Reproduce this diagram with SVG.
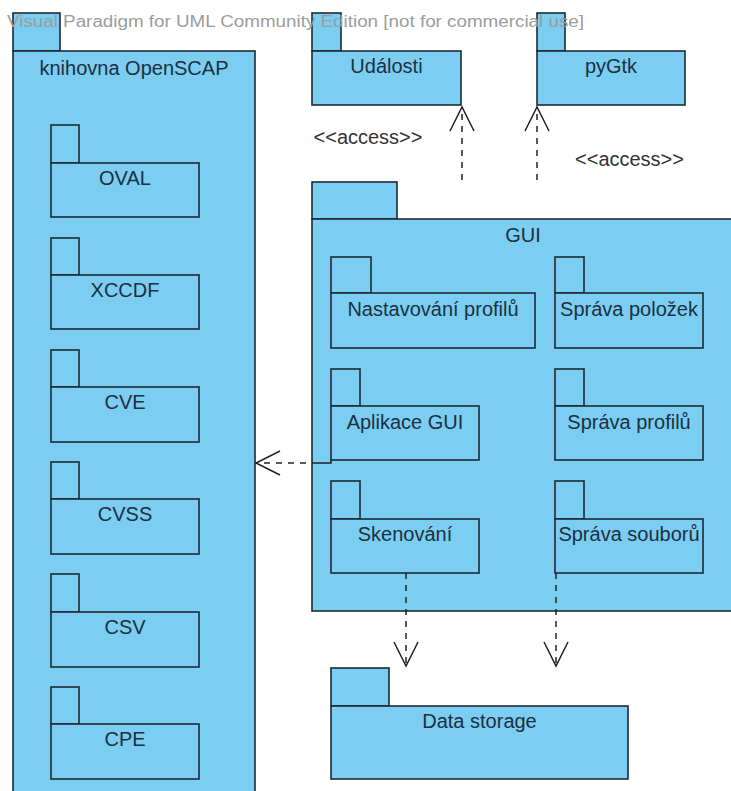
<svg xmlns="http://www.w3.org/2000/svg" width="731" height="791" viewBox="0 0 731 791">
<defs>
<style>
.pk{fill:#7bcdf1;stroke:#1d2a33;stroke-width:1.6}
.lb{font-family:"Liberation Sans",Arial,sans-serif;font-size:20px;fill:#1c3040;text-anchor:middle}
.st{font-family:"Liberation Sans",Arial,sans-serif;font-size:20px;fill:#333;text-anchor:middle}
.wm{font-family:"Liberation Sans",Arial,sans-serif;font-size:16px;fill:#9c9c9c}
.cn{fill:none;stroke:#222;stroke-width:1.5;stroke-dasharray:6,6}
.ah{fill:none;stroke:#222;stroke-width:1.5}
</style>
<marker id="open" viewBox="-27 -14 30 28" refX="0" refY="0" markerWidth="30" markerHeight="28" markerUnits="userSpaceOnUse" orient="auto">
<path d="M-24,-12 L0,0 L-24,12" fill="none" stroke="#222" stroke-width="1.5"/>
</marker>
</defs>
<rect width="731" height="791" fill="#fff"/>

<g id="openscap">
<rect class="pk" x="13" y="13" width="47" height="38"/>
<rect class="pk" x="13" y="51" width="242" height="750"/>
<text class="lb" x="134" y="75">knihovna OpenSCAP</text>
</g>
<g id="oval">
<rect class="pk" x="51" y="125" width="28" height="38"/>
<rect class="pk" x="51" y="163" width="148" height="54"/>
<text class="lb" x="125" y="185">OVAL</text>
</g>
<g id="xccdf">
<rect class="pk" x="51" y="238" width="28" height="37"/>
<rect class="pk" x="51" y="275" width="148" height="54"/>
<text class="lb" x="125" y="297">XCCDF</text>
</g>
<g id="cve">
<rect class="pk" x="51" y="350" width="28" height="37"/>
<rect class="pk" x="51" y="387" width="148" height="55"/>
<text class="lb" x="125" y="409">CVE</text>
</g>
<g id="cvss">
<rect class="pk" x="51" y="462" width="28" height="37"/>
<rect class="pk" x="51" y="499" width="148" height="55"/>
<text class="lb" x="125" y="521">CVSS</text>
</g>
<g id="csv">
<rect class="pk" x="51" y="574" width="28" height="38"/>
<rect class="pk" x="51" y="612" width="148" height="55"/>
<text class="lb" x="125" y="634">CSV</text>
</g>
<g id="cpe">
<rect class="pk" x="51" y="687" width="28" height="37"/>
<rect class="pk" x="51" y="724" width="148" height="55"/>
<text class="lb" x="125" y="746">CPE</text>
</g>

<g id="udalosti">
<rect class="pk" x="312" y="13" width="29" height="38"/>
<rect class="pk" x="312" y="51" width="149" height="54"/>
<text class="lb" x="386.5" y="73">Události</text>
</g>
<g id="pygtk">
<rect class="pk" x="537" y="13" width="28" height="38"/>
<rect class="pk" x="537" y="51" width="148" height="54"/>
<text class="lb" x="611" y="73">pyGtk</text>
</g>

<g id="gui">
<rect class="pk" x="312" y="182" width="85" height="37"/>
<rect class="pk" x="312" y="219" width="422" height="392"/>
<text class="lb" x="523" y="242">GUI</text>
</g>
<g id="nastavovani">
<rect class="pk" x="331" y="257" width="40" height="36"/>
<rect class="pk" x="331" y="293" width="204" height="55"/>
<text class="lb" x="433" y="316">Nastavování profilů</text>
</g>
<g id="sprava-polozek">
<rect class="pk" x="555" y="257" width="29" height="36"/>
<rect class="pk" x="555" y="293" width="148" height="55"/>
<text class="lb" x="629" y="316">Správa položek</text>
</g>
<g id="aplikace-gui">
<rect class="pk" x="331" y="369" width="29" height="37"/>
<rect class="pk" x="331" y="406" width="148" height="54"/>
<text class="lb" x="405" y="429">Aplikace GUI</text>
</g>
<g id="sprava-profilu">
<rect class="pk" x="555" y="369" width="29" height="37"/>
<rect class="pk" x="555" y="406" width="148" height="54"/>
<text class="lb" x="629" y="429">Správa profilů</text>
</g>
<g id="skenovani">
<rect class="pk" x="331" y="481" width="29" height="38"/>
<rect class="pk" x="331" y="519" width="148" height="54"/>
<text class="lb" x="405" y="541">Skenování</text>
</g>
<g id="sprava-souboru">
<rect class="pk" x="555" y="481" width="29" height="38"/>
<rect class="pk" x="555" y="519" width="148" height="54"/>
<text class="lb" x="629" y="541">Správa souborů</text>
</g>
<g id="data-storage">
<rect class="pk" x="331" y="668" width="58" height="38"/>
<rect class="pk" x="331" y="706" width="297" height="73"/>
<text class="lb" x="479.5" y="728">Data storage</text>
</g>

<g id="connectors">
<path class="cn" d="M462,180 L462,107" marker-end="url(#open)"/>
<path class="cn" d="M537,180 L537,107" marker-end="url(#open)"/>
<path class="cn" d="M406,573 L406,666" marker-end="url(#open)"/>
<path class="cn" d="M556,573 L556,666" marker-end="url(#open)"/>
<path class="ah" d="M331,460 L331,463 L318,463"/>
<path class="cn" d="M318,463 L256,463" marker-end="url(#open)"/>
<text class="st" x="368" y="144">&lt;&lt;access&gt;&gt;</text>
<text class="st" x="629.5" y="166">&lt;&lt;access&gt;&gt;</text>
</g>

<text class="wm" x="7" y="27" textLength="577" lengthAdjust="spacingAndGlyphs">Visual Paradigm for UML Community Edition [not for commercial use]</text>
</svg>
